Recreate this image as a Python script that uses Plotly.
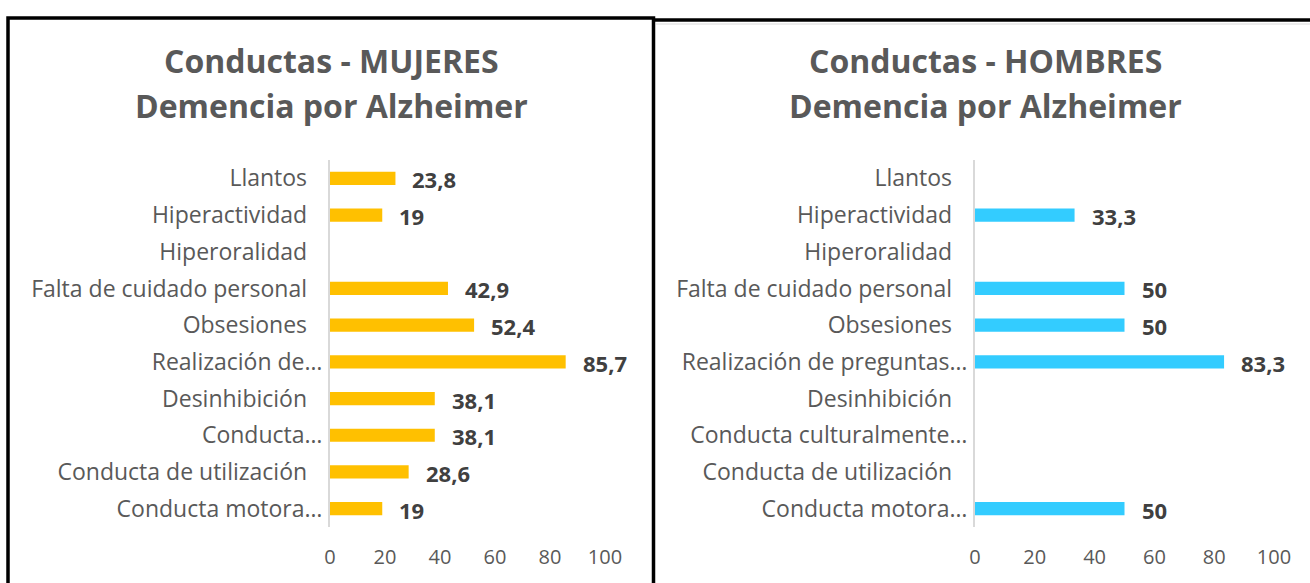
import plotly.graph_objects as go

categories_m = ["Llantos", "Hiperactividad", "Hiperoralidad", "Falta de cuidado personal",
                "Obsesiones", "Realización de…", "Desinhibición", "Conducta…",
                "Conducta de utilización", "Conducta motora…"]
values_m = [23.8, 19, None, 42.9, 52.4, 85.7, 38.1, 38.1, 28.6, 19]

categories_h = ["Llantos", "Hiperactividad", "Hiperoralidad", "Falta de cuidado personal",
                "Obsesiones", "Realización de preguntas…", "Desinhibición",
                "Conducta culturalmente…", "Conducta de utilización", "Conducta motora…"]
values_h = [None, 33.3, None, 50, 50, 83.3, None, None, None, 50]

x_ticks = [0, 20, 40, 60, 80, 100]

title_m = ["Conductas - MUJERES", "Demencia por Alzheimer"]
title_h = ["Conductas - HOMBRES", "Demencia por Alzheimer"]

W, H = 1310, 583
FONT = "Open Sans"
GRAY = "#595959"
DARK = "#404040"


def fmt(v):
    return f"{v:g}".replace(".", ",")


def px_x(p):
    return p / W


def px_y(p):
    return 1 - p / H


fig = go.Figure()
panels = [
    (categories_m, values_m, "#FFC000", "x", "y", title_m, 331),
    (categories_h, values_h, "#33CCFF", "x2", "y2", title_h, 985),
]

annotations = []
for cats, vals, color, xa, ya, title, cx in panels:
    fig.add_trace(go.Bar(
        y=cats, x=[v if v is not None else 0 for v in vals], orientation="h",
        marker=dict(color=color, line=dict(width=0)), width=0.36,
        xaxis=xa, yaxis=ya, hoverinfo="skip", showlegend=False,
    ))
    for c, v in zip(cats, vals):
        if v is None:
            continue
        annotations.append(dict(
            x=v, y=c, xref=xa, yref=ya, text=f"<b>{fmt(v)}</b>", showarrow=False,
            xanchor="left", yanchor="middle", xshift=15, yshift=-1,
            font=dict(family=FONT, size=22, color=DARK),
        ))
    for line, yy in zip(title, [60, 105]):
        annotations.append(dict(
            x=px_x(cx), y=px_y(yy), xref="paper", yref="paper",
            text=f"<b>{line}</b>", showarrow=False, xanchor="center", yanchor="middle",
            font=dict(family=FONT, size=32, color=GRAY),
        ))

top, bottom = 160, 527


def yaxis_cfg(cats, anchor):
    ticktext = [c if c.endswith("…") else c + "\u2002\u2009" for c in cats]
    return dict(
        domain=[px_y(bottom), px_y(top)], anchor=anchor, type="category",
        categoryorder="array", categoryarray=cats, autorange="reversed",
        tickmode="array", tickvals=cats, ticktext=ticktext, automargin=False,
        showline=True, linecolor="#D9D9D9", linewidth=2, showgrid=False,
        ticks="", ticklabelstandoff=1, zeroline=False,
        tickfont=dict(family=FONT, size=23, color=GRAY),
    )


def xaxis_cfg(anchor, dom):
    return dict(
        domain=[px_x(dom[0]), px_x(dom[1])], anchor=anchor, range=[0, 100],
        tickmode="array", tickvals=x_ticks, ticktext=[str(t) for t in x_ticks],
        showgrid=False, zeroline=False, showline=False, ticks="", automargin=False,
        ticklabelstandoff=16,
        tickfont=dict(family=FONT, size=20, color=GRAY),
    )


fig.update_layout(
    width=W, height=H, margin=dict(l=0, r=0, t=0, b=0, autoexpand=False),
    paper_bgcolor="white", plot_bgcolor="white",
    xaxis=xaxis_cfg("y", (330, 605)),
    yaxis=yaxis_cfg(categories_m, "x"),
    xaxis2=xaxis_cfg("y2", (975, 1274)),
    yaxis2=yaxis_cfg(categories_h, "x2"),
    annotations=annotations,
    shapes=[
        dict(type="line", xref="paper", yref="paper",
             x0=px_x(656), x1=px_x(1320), y0=px_y(24), y1=px_y(24),
             line=dict(color="#D9D9D9", width=1)),
        dict(type="rect", xref="paper", yref="paper",
             x0=px_x(8), x1=px_x(653.5), y0=px_y(620), y1=px_y(18),
             line=dict(color="black", width=3.5), fillcolor="rgba(0,0,0,0)"),
        dict(type="line", xref="paper", yref="paper",
             x0=px_x(653.5), x1=px_x(1320), y0=px_y(20), y1=px_y(20),
             line=dict(color="black", width=3.5)),
    ],
)

fig.write_html("out.html", config={"displayModeBar": False},
               post_script="document.body.style.margin='0px';document.body.style.overflow='hidden';")
